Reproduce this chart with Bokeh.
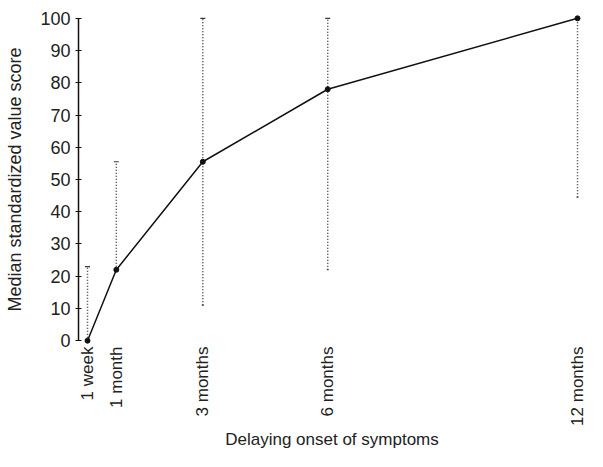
from bokeh.plotting import figure
from bokeh.models import Range1d, FixedTicker, Whisker, ColumnDataSource, TeeHead
from bokeh.embed import file_html
from bokeh.resources import INLINE

# Data (x in weeks)
delay_labels = ["1 week", "1 month", "3 months", "6 months", "12 months"]
delay_weeks = [1, 4, 13, 26, 52]
median_score = [0, 22, 55.5, 78, 100]
range_low = [0, 22, 11, 22, 44.5]
range_high = [23, 55.5, 100, 100, 100]
x_title = "Delaying onset of symptoms"
y_title = "Median standardized value score"

FONT = "Liberation Sans"
TXT = "#222222"

p = figure(width=587, height=451, output_backend="svg", toolbar_location=None,
           x_range=Range1d(0.063, 52.83), y_range=Range1d(-1.5, 101.5),
           min_border_left=78, min_border_right=2, min_border_top=13, min_border_bottom=106)
p.outline_line_color = None
p.xgrid.grid_line_color = None
p.ygrid.grid_line_color = None
p.background_fill_color = "white"
p.border_fill_color = "white"

src = ColumnDataSource(dict(x=delay_weeks, y=median_score, lo=range_low, hi=range_high))

w = Whisker(base="x", lower="lo", upper="hi", source=src,
            line_color="#3a3a3a", line_width=1.5, line_dash="1 2",
            upper_head=TeeHead(size=5, line_color="#3a3a3a", line_width=1.2),
            lower_head=TeeHead(size=2, line_color="#3a3a3a", line_width=1.2))
p.add_layout(w)

p.line("x", "y", source=src, line_color="#111111", line_width=1.5)
p.scatter("x", "y", source=src, size=5, color="#111111")

# x axis
xa = p.xaxis[0]
xa.ticker = FixedTicker(ticks=delay_weeks)
xa.major_label_overrides = {t: l for t, l in zip(delay_weeks, delay_labels)}
xa.major_label_orientation = 3.14159265 / 2
xa.axis_line_color = None
xa.major_tick_line_color = None
xa.minor_tick_line_color = None
xa.major_tick_out = 0
xa.major_tick_in = 0
xa.major_label_standoff = 1
xa.major_label_text_font = FONT
xa.major_label_text_font_size = "17px"
xa.major_label_text_color = TXT
xa.axis_label = x_title
xa.axis_label_text_font = FONT
xa.axis_label_text_font_size = "17px"
xa.axis_label_text_font_style = "normal"
xa.axis_label_text_color = TXT
xa.axis_label_standoff = 1

# y axis
ya = p.yaxis[0]
ya.ticker = FixedTicker(ticks=[0, 10, 20, 30, 40, 50, 60, 70, 80, 90, 100])
ya.bounds = (0, 100)
ya.axis_line_color = "#111111"
ya.axis_line_width = 1.5
ya.major_tick_line_color = "#111111"
ya.major_tick_line_width = 1.2
ya.major_tick_in = 3
ya.major_tick_out = 3
ya.minor_tick_line_color = None
ya.major_label_standoff = 5
ya.major_label_text_font = FONT
ya.major_label_text_font_size = "18px"
ya.major_label_text_color = TXT
ya.axis_label = y_title
ya.axis_label_text_font = FONT
ya.axis_label_text_font_size = "18px"
ya.axis_label_text_font_style = "normal"
ya.axis_label_text_color = TXT
ya.axis_label_standoff = 12

open("out.html", "w").write(file_html(p, INLINE))
